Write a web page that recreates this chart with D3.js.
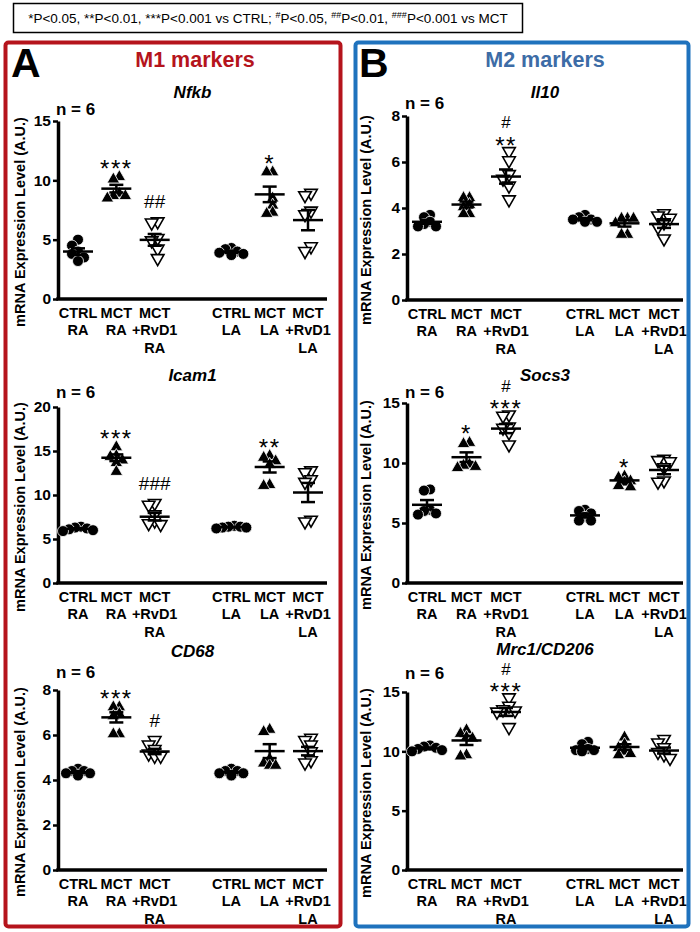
<!DOCTYPE html>
<html>
<head>
<meta charset="utf-8">
<script src="https://cdn.jsdelivr.net/npm/d3@7"></script>
<style>
  body { margin: 0; background: #fff; }
  text { font-family: "Liberation Sans", Arial, sans-serif; }
</style>
</head>
<body>
<div id="chart"></div>
<script>
// group labels (multi line) and marker shape of each group
let categories = [["CTRL", "RA"], ["MCT", "RA"], ["MCT", "+RvD1", "RA"],
                  ["CTRL", "LA"], ["MCT", "LA"], ["MCT", "+RvD1", "LA"]];
let shapes = ["circle", "up", "down", "circle", "up", "down"];

// values, 6 animals per group
let nfkb = [[5.0, 4.5, 4.0, 3.8, 3.5, 3.2], [10.4, 10.2, 9.0, 8.8, 8.8, 8.6], [6.4, 6.3, 5.0, 4.8, 4.1, 3.3],
            [4.3, 4.2, 4.0, 3.9, 3.8, 3.7], [10.8, 10.8, 8.6, 8.0, 7.4, 7.3], [8.8, 8.6, 7.3, 7.0, 4.3, 3.9]];
let icam1 = [[6.4, 6.3, 6.2, 6.1, 6.0, 5.9], [15.6, 14.6, 14.5, 14.1, 13.8, 12.8], [8.9, 8.7, 7.6, 6.9, 6.6, 6.5],
             [6.5, 6.4, 6.4, 6.3, 6.3, 6.2], [14.6, 14.4, 14.0, 13.6, 11.3, 11.2], [12.6, 12.4, 11.6, 11.3, 7.0, 6.8]];
let cd68 = [[4.5, 4.4, 4.4, 4.3, 4.3, 4.2], [7.3, 7.3, 7.0, 6.9, 6.1, 6.1], [5.7, 5.5, 5.3, 5.1, 5.0, 5.0],
            [4.5, 4.4, 4.4, 4.3, 4.3, 4.2], [6.3, 6.2, 5.0, 4.8, 4.7, 4.7], [5.8, 5.7, 5.5, 5.2, 4.8, 4.7]];
let il10 = [[3.7, 3.6, 3.4, 3.3, 3.2, 3.2], [4.5, 4.5, 4.2, 4.1, 3.8, 3.8], [6.4, 6.0, 5.4, 5.2, 4.9, 4.3],
            [3.7, 3.6, 3.5, 3.5, 3.4, 3.4], [3.6, 3.6, 3.6, 3.4, 2.9, 2.9], [3.7, 3.6, 3.5, 3.3, 3.1, 2.6]];
let socs3 = [[7.8, 7.7, 6.1, 6.0, 5.8, 5.7], [11.8, 11.7, 10.0, 9.9, 9.8, 9.7], [13.9, 13.8, 12.9, 12.8, 12.4, 11.4],
             [6.1, 6.0, 5.8, 5.5, 5.2, 5.2], [9.0, 8.9, 8.6, 8.5, 8.2, 8.1], [10.2, 10.1, 10.0, 9.5, 8.4, 8.3]];
let mrc1 = [[10.5, 10.4, 10.3, 10.2, 10.1, 10.0], [11.9, 11.6, 11.3, 11.2, 9.8, 9.7], [14.4, 13.7, 13.4, 13.3, 13.2, 11.9],
            [10.8, 10.6, 10.2, 10.1, 10.1, 10.0], [11.3, 10.7, 10.4, 10.1, 9.9, 9.8], [10.9, 10.6, 10.2, 9.8, 9.6, 9.3]];

// significance marks per group
let nfkbStars = ["", "***", "", "", "*", ""],   nfkbHash = ["", "", "##", "", "", ""];
let icam1Stars = ["", "***", "", "", "**", ""], icam1Hash = ["", "", "###", "", "", ""];
let cd68Stars = ["", "***", "", "", "", ""],    cd68Hash = ["", "", "#", "", "", ""];
let il10Stars = ["", "", "**", "", "", ""],     il10Hash = ["", "", "#", "", "", ""];
let socs3Stars = ["", "*", "***", "", "*", ""], socs3Hash = ["", "", "#", "", "", ""];
let mrc1Stars = ["", "", "***", "", "", ""],    mrc1Hash = ["", "", "#", "", "", ""];

// y tick values
let nfkbTicks = [0, 5, 10, 15];
let icam1Ticks = [0, 5, 10, 15, 20];
let cd68Ticks = [0, 2, 4, 6, 8];
let il10Ticks = [0, 2, 4, 6, 8];
let socs3Ticks = [0, 5, 10, 15];
let mrc1Ticks = [0, 5, 10, 15];

let nLabel = "n = 6";
let yTitle = "mRNA Expression Level (A.U.)";

let svg = d3.select("#chart").append("svg")
  .attr("width", 700)
  .attr("height", 932);

// ---- top legend box
svg.append("rect")
  .attr("x", 13.5).attr("y", 3.5).attr("width", 509).attr("height", 29)
  .attr("fill", "#fff").attr("stroke", "#000").attr("stroke-width", 1.5);

let legend = svg.append("text")
  .attr("x", 268).attr("y", 23)
  .attr("text-anchor", "middle")
  .attr("font-size", 13.5);
[["*P<0.05, **P<0.01, ***P<0.001 vs CTRL; ", false], ["#", true], ["P<0.05, ", false],
 ["##", true], ["P<0.01, ", false], ["###", true], ["P<0.001 vs MCT", false]]
  .forEach(function (p) {
    let t = legend.append("tspan").text(p[0]);
    if (p[1]) t.attr("font-size", 9).attr("dy", -5);
    else t.attr("dy", legend.selectAll("tspan").size() > 1 ? 5 : 0);
  });

// ---- panel frames
let panels = [
  { letter: "A", title: "M1 markers", color: "#b5141c", titleColor: "#b5141c", x: 5.5, w: 335, lx: 11, tx: 195, axisX: 58, axisEnd: 327, ylx: 25 },
  { letter: "B", title: "M2 markers", color: "#1f72bd", titleColor: "#3d6ca6", x: 355.5, w: 333, lx: 359, tx: 545, axisX: 407, axisEnd: 683, ylx: 371 }
];
panels.forEach(function (p) {
  svg.append("rect")
    .attr("x", p.x).attr("y", 42.5).attr("width", p.w).attr("height", 884)
    .attr("rx", 3)
    .attr("fill", "none").attr("stroke", p.color).attr("stroke-width", 4);
  svg.append("text")
    .attr("x", p.lx).attr("y", 77)
    .attr("font-size", 41).attr("font-weight", "bold")
    .text(p.letter);
  svg.append("text")
    .attr("x", p.tx).attr("y", 67)
    .attr("text-anchor", "middle")
    .attr("font-size", 21.5).attr("font-weight", "bold")
    .attr("fill", p.titleColor)
    .text(p.title);
});

// ---- one scatter plot per gene
let plots = [
  { gene: "Nfkb", data: nfkb, stars: nfkbStars, hash: nfkbHash, ticks: nfkbTicks, panel: 0, top: 121, bottom: 299, titleY: 98, nY: 115 },
  { gene: "Icam1", data: icam1, stars: icam1Stars, hash: icam1Hash, ticks: icam1Ticks, panel: 0, top: 407, bottom: 583, titleY: 381, nY: 398 },
  { gene: "CD68", data: cd68, stars: cd68Stars, hash: cd68Hash, ticks: cd68Ticks, panel: 0, top: 690, bottom: 870, titleY: 657, nY: 678 },
  { gene: "Il10", data: il10, stars: il10Stars, hash: il10Hash, ticks: il10Ticks, panel: 1, top: 116, bottom: 300, titleY: 98, nY: 109 },
  { gene: "Socs3", data: socs3, stars: socs3Stars, hash: socs3Hash, ticks: socs3Ticks, panel: 1, top: 403, bottom: 583, titleY: 381, nY: 398 },
  { gene: "Mrc1/CD206", data: mrc1, stars: mrc1Stars, hash: mrc1Hash, ticks: mrc1Ticks, panel: 1, top: 692, bottom: 870, titleY: 655, nY: 679 }
];

// marker paths
function marker(shape) {
  if (shape === "circle") return "M-5.5,0A5.5,5.5 0 1,0 5.5,0A5.5,5.5 0 1,0 -5.5,0Z";
  if (shape === "up") return "M0,-6L6.3,5L-6.3,5Z";
  return "M-6.3,-5.2L6.3,-5.2L0,5.8Z";
}

plots.forEach(function (pl) {
  let p = panels[pl.panel];
  let g = svg.append("g");

  let y = d3.scaleLinear()
    .domain([0, d3.max(pl.ticks)])
    .range([pl.bottom, pl.top]);
  // 7 slots, the 4th one is the gap between RA and LA
  let slots = ["g0", "g1", "g2", "gap", "g3", "g4", "g5"];
  let x = d3.scalePoint()
    .domain(slots)
    .range([p.axisX + 20, p.axisEnd - 19]);
  let cx = function (i) { return x("g" + i); };

  // titles
  g.append("text")
    .attr("x", (p.axisX + p.axisEnd) / 2).attr("y", pl.titleY)
    .attr("text-anchor", "middle")
    .attr("font-size", 17).attr("font-weight", "bold").attr("font-style", "italic")
    .text(pl.gene);
  g.append("text")
    .attr("x", p.axisX - 2).attr("y", pl.nY)
    .attr("font-size", 17).attr("font-weight", "bold")
    .text(nLabel);
  g.append("text")
    .attr("transform", `translate(${p.ylx},${(pl.top + pl.bottom) / 2 + 12}) rotate(-90)`)
    .attr("text-anchor", "middle")
    .attr("font-size", 14.5).attr("font-weight", "bold")
    .text(yTitle);

  // y axis
  let yAxis = g.append("g")
    .attr("transform", `translate(${p.axisX},0)`)
    .call(d3.axisLeft(y).tickValues(pl.ticks).tickSize(5).tickSizeOuter(0).tickPadding(2));
  yAxis.select(".domain").attr("stroke-width", 3.5);
  yAxis.selectAll(".tick line").attr("stroke-width", 2.5);
  yAxis.selectAll(".tick text")
    .attr("font-size", 15.5).attr("font-weight", "bold")
    .attr("font-family", "Liberation Sans, Arial, sans-serif")
    .attr("fill", "#000");

  // x axis
  g.append("line")
    .attr("x1", p.axisX - 1.75).attr("x2", p.axisEnd)
    .attr("y1", pl.bottom).attr("y2", pl.bottom)
    .attr("stroke", "#000").attr("stroke-width", 3.5);

  categories.forEach(function (lines, i) {
    let t = g.append("text")
      .attr("text-anchor", "middle")
      .attr("font-size", 14.5).attr("font-weight", "bold");
    lines.forEach(function (s, k) {
      t.append("tspan")
        .attr("x", cx(i))
        .attr("y", pl.bottom + 18.5 + k * 17.5)
        .text(s);
    });
  });

  // points, spread sideways so they do not pile up
  pl.data.forEach(function (vals, i) {
    let placed = [];
    let cands = [0, -6, 6, -12, 12, -18, 18];
    vals.slice().sort(d3.descending).forEach(function (v) {
      let py = y(v);
      let off = cands.find(function (c) {
        return placed.every(function (q) { return Math.hypot(q.dx - c, q.py - py) >= 6; });
      });
      if (off === undefined) off = 0;
      placed.push({ v: v, dx: off, py: py });
    });
    // re-centre the swarm
    let mid = (d3.min(placed, d => d.dx) + d3.max(placed, d => d.dx)) / 2;

    g.selectAll(null)
      .data(placed)
      .enter()
      .append("path")
      .attr("transform", d => `translate(${cx(i) + d.dx - mid},${d.py})`)
      .attr("d", marker(shapes[i]))
      .attr("fill", shapes[i] === "down" ? "#fff" : "#000")
      .attr("stroke", shapes[i] === "down" ? "#000" : "#fff")
      .attr("stroke-width", shapes[i] === "down" ? 1.6 : 0.8);

    // mean +/- SEM
    let m = d3.mean(vals);
    let sem = d3.deviation(vals) / Math.sqrt(vals.length);
    let c = cx(i);
    g.append("line")
      .attr("x1", c - 15).attr("x2", c + 15)
      .attr("y1", y(m)).attr("y2", y(m))
      .attr("stroke", "#000").attr("stroke-width", 2.5);
    g.append("line")
      .attr("x1", c).attr("x2", c)
      .attr("y1", y(m + sem)).attr("y2", y(m - sem))
      .attr("stroke", "#000").attr("stroke-width", 2.5);
    [m + sem, m - sem].forEach(function (e) {
      g.append("line")
        .attr("x1", c - 7).attr("x2", c + 7)
        .attr("y1", y(e)).attr("y2", y(e))
        .attr("stroke", "#000").attr("stroke-width", 2.5);
    });

    // significance marks
    let topPx = y(d3.max(vals));
    if (pl.stars[i]) {
      let sy = topPx + 1;
      g.append("text")
        .attr("x", c).attr("y", sy)
        .attr("text-anchor", "middle")
        .attr("font-size", 24).attr("letter-spacing", 1.5)
        .text(pl.stars[i]);
      if (pl.hash[i]) {
        g.append("text")
          .attr("x", c).attr("y", sy - 25.5)
          .attr("text-anchor", "middle")
          .attr("font-size", 17)
          .text(pl.hash[i]);
      }
    } else if (pl.hash[i]) {
      g.append("text")
        .attr("x", c).attr("y", topPx - 15)
        .attr("text-anchor", "middle")
        .attr("font-size", 19)
        .text(pl.hash[i]);
    }
  });
});
</script>
</body>
</html>
